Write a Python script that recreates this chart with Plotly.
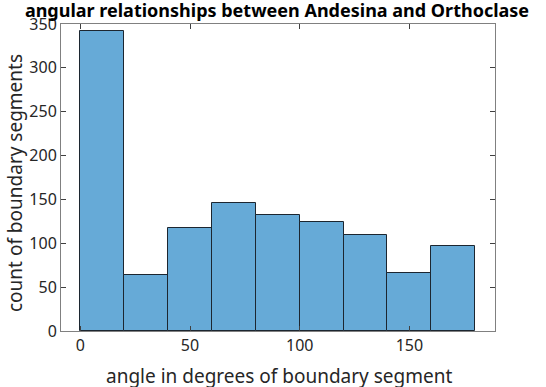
import plotly.graph_objects as go

bin_edges = [0, 20, 40, 60, 80, 100, 120, 140, 160, 180]
counts = [342, 64, 117, 146, 132, 124, 109, 66, 97]
x_ticks = [0, 50, 100, 150]
y_ticks = [0, 50, 100, 150, 200, 250, 300, 350]

centers = [(a + b) / 2 for a, b in zip(bin_edges[:-1], bin_edges[1:])]
widths = [b - a for a, b in zip(bin_edges[:-1], bin_edges[1:])]

fig = go.Figure(go.Bar(
    x=centers, y=counts, width=widths,
    marker=dict(color="#66AAD7", line=dict(color="#1c2630", width=1)),
))

font = "Noto Sans"
axis_common = dict(
    showline=True, mirror="allticks", linecolor="#808080", linewidth=1,
    ticks="inside", ticklen=5, tickcolor="#404040", tickwidth=1,
    showgrid=False, zeroline=False, automargin=False,
    tickfont=dict(family=font, size=16, color="#262626"),
)

fig.update_layout(
    width=546, height=387,
    margin=dict(l=61, r=51, t=24, b=56),
    paper_bgcolor="white", plot_bgcolor="white",
    showlegend=False,
    title=dict(text="<b>angular relationships between Andesina and Orthoclase</b>",
               x=277 / 546, xanchor="center", y=1 - 11 / 387, yanchor="middle",
               font=dict(family=font, size=18, color="black")),
    xaxis=dict(range=[-8.8, 189], tickvals=x_ticks, **axis_common),
    yaxis=dict(range=[0, 350], tickvals=y_ticks, **axis_common),
    bargap=0,
    annotations=[
        dict(text="angle in degrees of boundary segment", xref="paper", yref="paper",
             x=(279 - 61) / 434, y=-(376 - 331) / 307, xanchor="center", yanchor="middle",
             showarrow=False, font=dict(family=font, size=19, color="#262626")),
        dict(text="count of boundary segments", xref="paper", yref="paper",
             x=-(61 - 15) / 434, y=(331 - 183) / 307, xanchor="center", yanchor="middle",
             showarrow=False, textangle=-90,
             font=dict(family=font, size=19, color="#262626")),
    ],
)

fig.write_html("out.html", config={"displayModeBar": False},
               post_script="document.body.style.margin='0';")
